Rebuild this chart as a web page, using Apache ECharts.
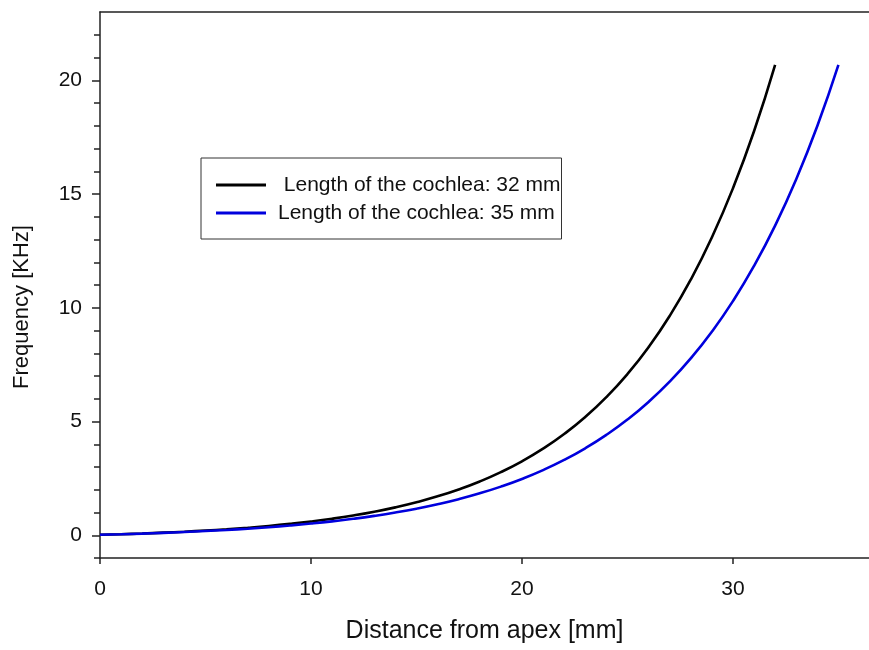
<!DOCTYPE html>
<html>
<head>
<meta charset="utf-8">
<script src="https://cdn.jsdelivr.net/npm/echarts@6/dist/echarts.min.js"></script>
<style>
html,body{margin:0;padding:0;background:#fff;}
#chart{width:869px;height:650px;}
</style>
</head>
<body>
<div id="chart"></div>
<script>
// Distance from apex (mm)
const dist32 = [0,1,2,3,4,5,6,7,8,9,10,11,12,13,14,15,16,17,18,19,20,21,22,23,24,25,26,27,28,29,30,31,32];
const freq32 = [0.020,0.047,0.078,0.115,0.157,0.207,0.264,0.331,0.408,0.499,0.604,0.726,0.868,1.034,1.226,1.450,1.710,2.013,2.365,2.775,3.251,3.805,4.450,5.199,6.071,7.085,8.264,9.636,11.232,13.088,15.247,17.758,20.677];
const dist35 = [0,1,2,3,4,5,6,7,8,9,10,11,12,13,14,15,16,17,18,19,20,21,22,23,24,25,26,27,28,29,30,31,32,33,34,35];
const freq35 = [0.020,0.044,0.072,0.105,0.142,0.184,0.233,0.289,0.354,0.428,0.513,0.610,0.722,0.851,0.999,1.168,1.363,1.586,1.843,2.138,2.476,2.864,3.310,3.822,4.410,5.085,5.860,6.749,7.771,8.944,10.291,11.837,13.612,15.650,17.990,20.677];
const seriesNames = ['Length of the cochlea: 32 mm', 'Length of the cochlea: 35 mm'];
const xTicks = [0, 10, 20, 30];
const yMajorTicks = [0, 5, 10, 15, 20];
const yMinorTicks = [-1,1,2,3,4,6,7,8,9,11,12,13,14,16,17,18,19,21,22];
const xName = 'Distance from apex [mm]';
const yName = 'Frequency [KHz]';

const font = 'Liberation Sans, Arial, sans-serif';
const axisColor = '#222';

const chart = echarts.init(document.getElementById('chart'), null, {renderer: 'canvas'});
chart.setOption({
  backgroundColor: '#fff',
  animation: false,
  grid: {left: 100, right: 0, top: 12, bottom: 92, containLabel: false},
  legend: {
    orient: 'vertical',
    left: 201, top: 158,
    padding: [16, 1, 15, 15],
    borderColor: '#333', borderWidth: 1,
    icon: 'rect',
    itemWidth: 50, itemHeight: 3, itemGap: 6,
    data: seriesNames,
    formatter: function (name) { return name === seriesNames[0] ? ' ' + name : name; },
    textStyle: {fontFamily: font, fontSize: 21, color: '#111', lineHeight: 22, padding: [0, 0, 0, 7]}
  },
  xAxis: [{
    type: 'value', min: 0, max: 36.45,
    position: 'bottom',
    splitLine: {show: false},
    axisLine: {show: true, onZero: false, lineStyle: {color: axisColor, width: 1.5}},
    axisTick: {show: true, inside: false, length: 6, customValues: xTicks, lineStyle: {color: axisColor, width: 1.5}},
    axisLabel: {customValues: xTicks, margin: 21, fontFamily: font, fontSize: 21, color: '#111'},
    name: xName, nameLocation: 'middle', nameGap: 61,
    nameTextStyle: {fontFamily: font, fontSize: 25, color: '#111'}
  }, {
    type: 'value', min: 0, max: 36.45, position: 'top',
    axisLine: {show: true, onZero: false, lineStyle: {color: axisColor, width: 1.5}},
    axisTick: {show: false}, axisLabel: {show: false}, splitLine: {show: false}
  }],
  yAxis: [{
    type: 'value', min: -1, max: 23, position: 'left',
    splitLine: {show: false},
    axisLine: {show: true, onZero: false, lineStyle: {color: axisColor, width: 1.5}},
    axisTick: {show: true, inside: false, length: 8, customValues: yMajorTicks, lineStyle: {color: axisColor, width: 1.5}},
    axisLabel: {customValues: yMajorTicks, margin: 18, fontFamily: font, fontSize: 21, color: '#111'},
    name: yName, nameLocation: 'middle', nameGap: 67, nameRotate: 90,
    nameTextStyle: {fontFamily: font, fontSize: 22, color: '#111', padding: [0, 44, 0, 0]}
  }, {
    type: 'value', min: -1, max: 23, position: 'left', offset: 0,
    splitLine: {show: false},
    axisLine: {show: false},
    axisTick: {show: true, inside: false, length: 6, customValues: yMinorTicks, lineStyle: {color: axisColor, width: 1.5}},
    axisLabel: {show: false}
  }],
  series: [{
    name: seriesNames[0], type: 'line', xAxisIndex: 0, yAxisIndex: 0,
    data: dist32.map((d, i) => [d, freq32[i]]),
    symbol: 'none', smooth: true,
    lineStyle: {color: '#000', width: 2.6},
    itemStyle: {color: '#000'}
  }, {
    name: seriesNames[1], type: 'line', xAxisIndex: 0, yAxisIndex: 0,
    data: dist35.map((d, i) => [d, freq35[i]]),
    symbol: 'none', smooth: true,
    lineStyle: {color: '#0000dd', width: 2.6},
    itemStyle: {color: '#0000dd'}
  }]
});
</script>
</body>
</html>
